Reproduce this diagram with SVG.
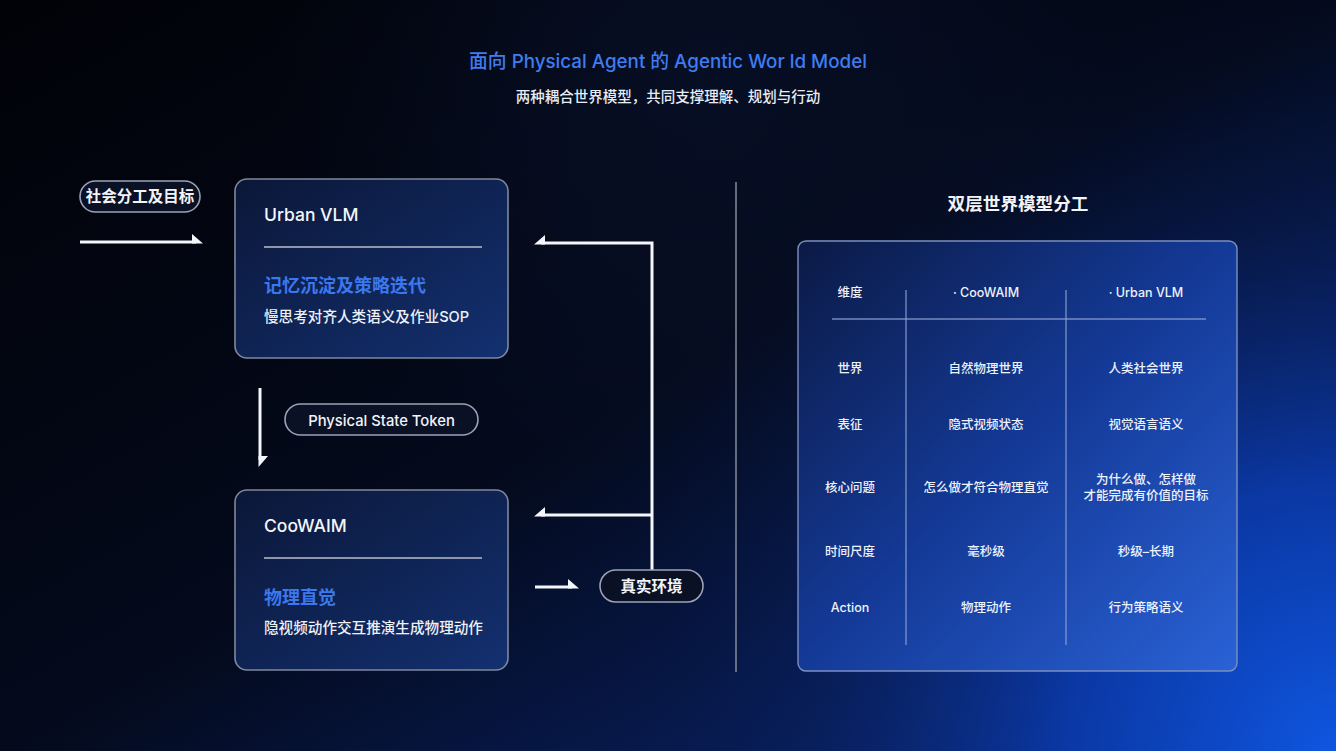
<svg xmlns="http://www.w3.org/2000/svg" width="1336" height="751" viewBox="0 0 1336 751">
<defs>
<style>
.cn{font-family:"Inter","Noto Sans CJK SC","Noto Sans",sans-serif;}
.title{font-size:18.8px;fill:#3f7cf0;font-weight:500;}
.sub{font-size:14.5px;fill:#e8ecf4;font-weight:500;}
.pill{fill:#0a1124;stroke:#9aa3b8;stroke-width:1.6;}
.pilltxt{font-size:15.5px;fill:#f2f4f8;font-weight:600;}
.box{fill:url(#boxg);stroke:#7f889c;stroke-width:1.6;}
.btitle{font-size:17.5px;fill:#f4f6fa;font-weight:500;}
.bhead{font-size:18px;fill:#3b78ee;font-weight:600;}
.bdesc{font-size:14.6px;fill:#eef1f6;font-weight:500;}
.div{stroke:#8d96aa;stroke-width:2;}
.conn{stroke:#f4f6fa;stroke-width:3;fill:none;}
.head{fill:#f4f6fa;}
.tbl{fill:url(#tblg);stroke:#7b8fc0;stroke-width:1.4;}
.tl{stroke:#8ea2d4;stroke-width:1.4;opacity:0.8;}
.tt{font-size:12.5px;fill:#eef2fb;font-weight:500;}
.h2{font-size:17.6px;fill:#f2f4f8;font-weight:600;}
</style>
<linearGradient id="bg0" x1="0" y1="0" x2="1" y2="1">
<stop offset="0" stop-color="#010207"/>
<stop offset="0.5" stop-color="#040a1c"/>
<stop offset="1" stop-color="#0a2a80"/>
</linearGradient>
<radialGradient id="bg1" cx="1336" cy="751" r="760" gradientUnits="userSpaceOnUse">
<stop offset="0" stop-color="#0f56e0" stop-opacity="1"/>
<stop offset="0.35" stop-color="#0b3cb0" stop-opacity="0.85"/>
<stop offset="0.7" stop-color="#0a2160" stop-opacity="0.35"/>
<stop offset="1" stop-color="#061030" stop-opacity="0"/>
</radialGradient>
<radialGradient id="bg2" cx="700" cy="80" r="420" gradientUnits="userSpaceOnUse">
<stop offset="0" stop-color="#0a1430" stop-opacity="0.6"/>
<stop offset="1" stop-color="#0a1430" stop-opacity="0"/>
</radialGradient>
<linearGradient id="boxg" x1="0" y1="0" x2="1" y2="1">
<stop offset="0" stop-color="#0b1738"/>
<stop offset="1" stop-color="#133070"/>
</linearGradient>
<linearGradient id="tblg" x1="0" y1="0" x2="1" y2="1">
<stop offset="0" stop-color="#0b1a45"/>
<stop offset="0.5" stop-color="#143a98"/>
<stop offset="1" stop-color="#2a62d6"/>
</linearGradient>
</defs>

<rect x="0" y="0" width="1336" height="751" fill="url(#bg0)"/>
<rect x="0" y="0" width="1336" height="751" fill="url(#bg1)"/>
<rect x="0" y="0" width="1336" height="751" fill="url(#bg2)"/>

<g id="header">
<text class="cn title" x="668" y="68" text-anchor="middle">面向 Physical Agent 的 Agentic Wor ld Model</text>
<text class="cn sub" x="668" y="102" text-anchor="middle">两种耦合世界模型，共同支撑理解、规划与行动</text>
</g>

<g id="connectors">
<line class="conn" x1="80" y1="242" x2="196" y2="242"/>
<polygon class="head" points="203,243.5 192,234 192,243.5"/>
<line class="conn" x1="260" y1="388" x2="260" y2="460"/>
<polygon class="head" points="258.5,467 258.5,456 268,456"/>
<polyline class="conn" points="652,572 652,243 541,243"/>
<polygon class="head" points="534,244.5 545,235 545,244.5"/>
<line class="conn" x1="652" y1="515" x2="541" y2="515"/>
<polygon class="head" points="534,516.5 545,507 545,516.5"/>
<line class="conn" x1="535" y1="587" x2="572" y2="587"/>
<polygon class="head" points="579,588.5 568,579 568,588.5"/>
</g>

<g id="node-goal">
<rect class="pill" x="80" y="181" width="120" height="31" rx="15.5"/>
<text class="cn pilltxt" x="140" y="202" text-anchor="middle">社会分工及目标</text>
</g>

<g id="node-urbanvlm">
<rect class="box" x="235" y="179" width="273" height="179" rx="12"/>
<text class="cn btitle" x="264" y="221">Urban VLM</text>
<line class="div" x1="264" y1="247" x2="482" y2="247"/>
<text class="cn bhead" x="264" y="292">记忆沉淀及策略迭代</text>
<text class="cn bdesc" x="264" y="322">慢思考对齐人类语义及作业SOP</text>
</g>

<g id="node-token">
<rect class="pill" x="285" y="404" width="193" height="31" rx="15.5"/>
<text class="cn pilltxt" x="381.5" y="425.5" text-anchor="middle" style="font-size:14.8px;font-weight:500">Physical State Token</text>
</g>

<g id="node-coowaim">
<rect class="box" x="235" y="490" width="273" height="180" rx="12"/>
<text class="cn btitle" x="264" y="532">CooWAIM</text>
<line class="div" x1="264" y1="558" x2="482" y2="558"/>
<text class="cn bhead" x="264" y="604">物理直觉</text>
<text class="cn bdesc" x="264" y="633">隐视频动作交互推演生成物理动作</text>
</g>

<g id="node-env">
<rect class="pill" x="600" y="570" width="103" height="32" rx="16"/>
<text class="cn pilltxt" x="651.5" y="592" text-anchor="middle">真实环境</text>
</g>

<line x1="736" y1="182" x2="736" y2="672" stroke="#7d8494" stroke-width="1.6"/>

<g id="node-table">
<text class="cn h2" x="1018" y="210" text-anchor="middle">双层世界模型分工</text>
<rect class="tbl" x="798" y="241" width="439" height="430" rx="8"/>
<line class="tl" x1="832" y1="319" x2="1206" y2="319"/>
<line class="tl" x1="906" y1="290" x2="906" y2="645"/>
<line class="tl" x1="1066" y1="290" x2="1066" y2="645"/>
<g class="cn tt" text-anchor="middle">
<text x="850" y="297">维度</text>
<text x="986" y="297">· CooWAIM</text>
<text x="1146" y="297">· Urban VLM</text>
<text x="850" y="373">世界</text>
<text x="986" y="373">自然物理世界</text>
<text x="1146" y="373">人类社会世界</text>
<text x="850" y="429">表征</text>
<text x="986" y="429">隐式视频状态</text>
<text x="1146" y="429">视觉语言语义</text>
<text x="850" y="492">核心问题</text>
<text x="986" y="492">怎么做才符合物理直觉</text>
<text x="1146" y="484">为什么做、怎样做</text>
<text x="1146" y="500">才能完成有价值的目标</text>
<text x="850" y="556">时间尺度</text>
<text x="986" y="556">毫秒级</text>
<text x="1146" y="556">秒级–长期</text>
<text x="850" y="612">Action</text>
<text x="986" y="612">物理动作</text>
<text x="1146" y="612">行为策略语义</text>
</g>
</g>
</svg>
